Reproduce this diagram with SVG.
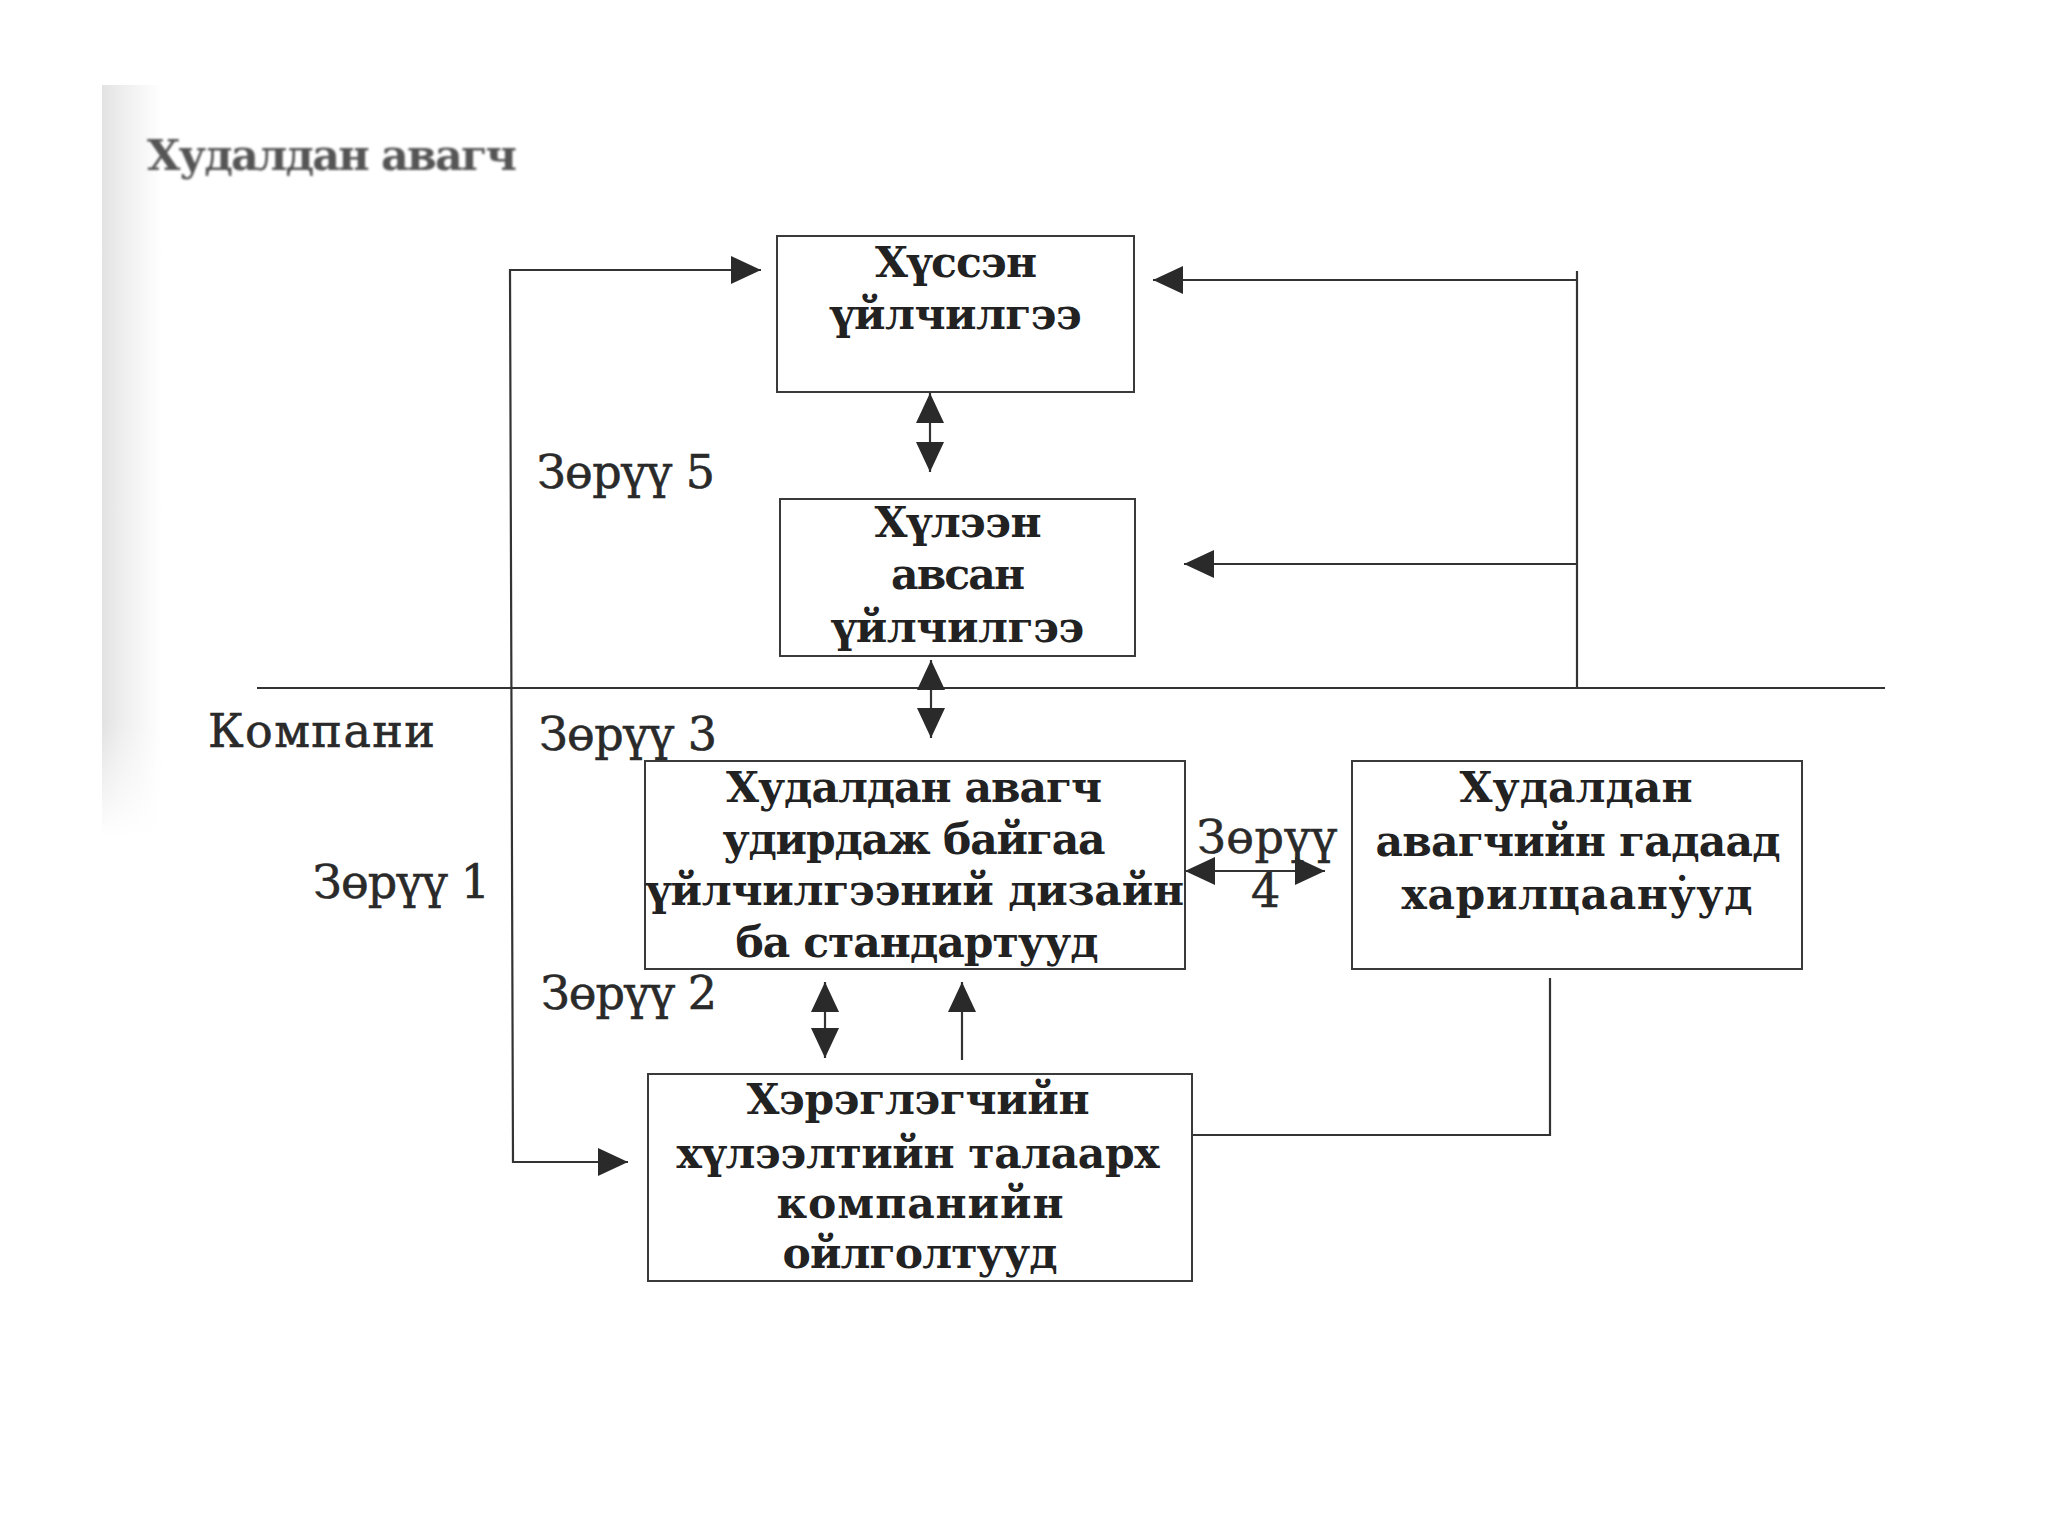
<svg xmlns="http://www.w3.org/2000/svg" width="2048" height="1536" viewBox="0 0 2048 1536">
<defs>
<style>
.box{fill:#ffffff;stroke:#3a3a3a;stroke-width:2}
.ln{fill:none;stroke:#333333;stroke-width:2.2}
.bt{font-family:"DejaVu Serif","Liberation Serif",serif;font-weight:bold;font-size:42.5px;fill:#222222;text-anchor:middle}
.lb{font-family:"DejaVu Serif","Liberation Serif",serif;font-size:46px;fill:#2a2a2a;stroke:#2a2a2a;stroke-width:0.6}
.title{font-family:"DejaVu Serif","Liberation Serif",serif;font-weight:bold;font-size:43px;fill:#555555}
</style>
<marker id="ah" markerUnits="userSpaceOnUse" markerWidth="30" markerHeight="28" refX="30" refY="14" orient="auto-start-reverse" viewBox="0 0 30 28">
<path d="M0,0 L30,14 L0,28 z" fill="#2a2a2a"/>
</marker>
<linearGradient id="scan" x1="0" y1="0" x2="1" y2="0">
<stop offset="0" stop-color="#e2e2e2"/>
<stop offset="0.3" stop-color="#ededed"/>
<stop offset="1" stop-color="#ffffff"/>
</linearGradient>
<linearGradient id="scanfade" x1="0" y1="0" x2="0" y2="1">
<stop offset="0" stop-color="#fff" stop-opacity="0"/>
<stop offset="0.85" stop-color="#fff" stop-opacity="0"/>
<stop offset="1" stop-color="#fff" stop-opacity="1"/>
</linearGradient>
<filter id="soft" x="-5%" y="-20%" width="110%" height="140%">
<feGaussianBlur stdDeviation="1.2"/>
</filter>
</defs>
<rect x="0" y="0" width="2048" height="1536" fill="#ffffff"/>
<rect x="102" y="85" width="60" height="752" fill="url(#scan)"/>
<rect x="102" y="85" width="60" height="752" fill="url(#scanfade)"/>

<g id="labels">
<text class="title" x="147" y="170" textLength="370" filter="url(#soft)">Худалдан авагч</text>
<text class="lb" x="208" y="747" textLength="227">Компани</text>
<text class="lb" x="537" y="488" textLength="178">Зөрүү 5</text>
<text class="lb" x="539" y="750" textLength="178">Зөрүү 3</text>
<text class="lb" x="313" y="898" textLength="177">Зөрүү 1</text>
<text class="lb" x="541" y="1009" textLength="176">Зөрүү 2</text>
<text class="lb" x="1197" y="853" textLength="140">Зөрүү</text>
<text class="lb" x="1251" y="907">4</text>
</g>

<g id="connectors">
<line class="ln" x1="257" y1="688" x2="1885" y2="688" stroke-width="2.6"/>
<polyline class="ln" points="1577,271 1577,689"/>
<polyline class="ln" points="1577,280 1153,280" marker-end="url(#ah)"/>
<polyline class="ln" points="1577,564 1184,564" marker-end="url(#ah)"/>
<polyline class="ln" points="761,270 510,270 513,1162 628,1162" marker-start="url(#ah)" marker-end="url(#ah)"/>
<line class="ln" x1="930" y1="393" x2="930" y2="472" marker-start="url(#ah)" marker-end="url(#ah)"/>
<line class="ln" x1="931" y1="660" x2="931" y2="738" marker-start="url(#ah)" marker-end="url(#ah)"/>
<line class="ln" x1="1185" y1="871" x2="1325" y2="871" marker-start="url(#ah)" marker-end="url(#ah)"/>
<line class="ln" x1="825" y1="982" x2="825" y2="1058" marker-start="url(#ah)" marker-end="url(#ah)"/>
<line class="ln" x1="962" y1="1060" x2="962" y2="982" marker-end="url(#ah)"/>
<polyline class="ln" points="1192,1135 1550,1135 1550,978"/>
</g>

<g id="node-khusen">
<rect class="box" x="777" y="236" width="357" height="156"/>
<text class="bt" x="956" y="277" textLength="162">Хүссэн</text>
<text class="bt" x="956" y="329" textLength="252">үйлчилгээ</text>
</g>

<g id="node-khuleen">
<rect class="box" x="780" y="499" width="355" height="157"/>
<text class="bt" x="958" y="537" textLength="167">Хүлээн</text>
<text class="bt" x="958" y="589" textLength="134">авсан</text>
<text class="bt" x="958" y="642" textLength="253">үйлчилгээ</text>
</g>

<g id="node-design">
<rect class="box" x="645" y="761" width="540" height="208"/>
<text class="bt" x="914" y="802" textLength="376">Худалдан авагч</text>
<text class="bt" x="914" y="854" textLength="383">удирдаж байгаа</text>
<text class="bt" x="915" y="905" textLength="538">үйлчилгээний дизайн</text>
<text class="bt" x="917" y="957" textLength="363">ба стандартууд</text>
</g>

<g id="node-external">
<rect class="box" x="1352" y="761" width="450" height="208"/>
<text class="bt" x="1576" y="802" textLength="233">Худалдан</text>
<text class="bt" x="1578" y="856" textLength="405">авагчийн гадаад</text>
<text class="bt" x="1577" y="909" textLength="351">харилцаану̇уд</text>
</g>

<g id="node-perception">
<rect class="box" x="648" y="1074" width="544" height="207"/>
<text class="bt" x="918" y="1114" textLength="343">Хэрэглэгчийн</text>
<text class="bt" x="918" y="1168" textLength="483">хүлээлтийн талаарх</text>
<text class="bt" x="920" y="1218" textLength="287">компанийн</text>
<text class="bt" x="920" y="1268" textLength="275">ойлголтууд</text>
</g>
</svg>
